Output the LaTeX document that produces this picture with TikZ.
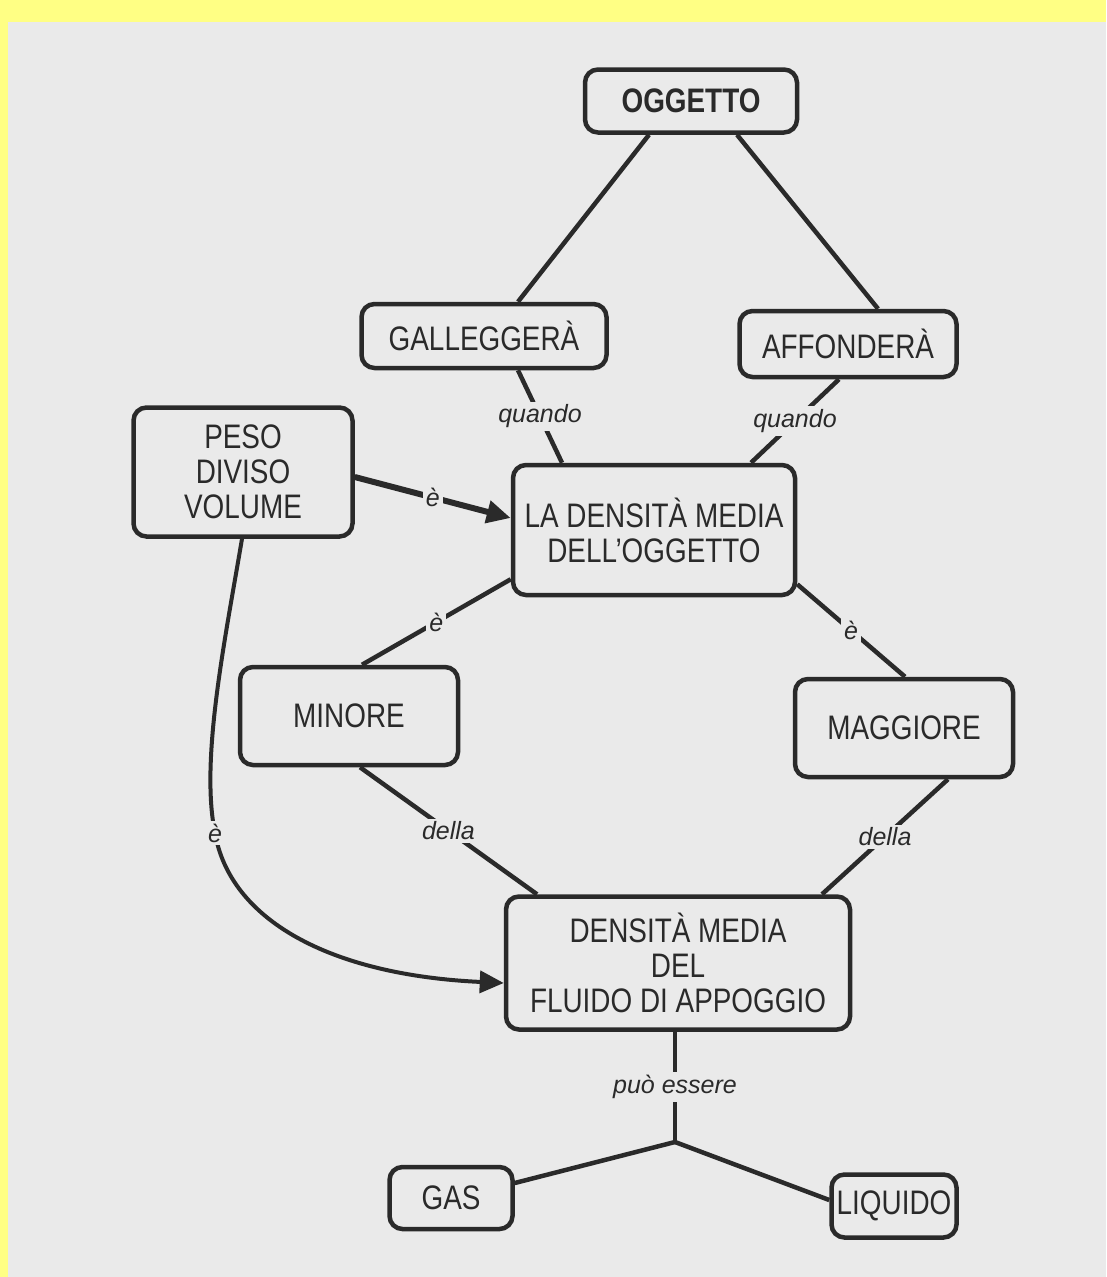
\documentclass[tikz,border=0pt]{standalone}
\usepackage{fontspec}
\setmainfont{Liberation Sans}[FakeStretch=0.82]
\newfontfamily\lblfont{Liberation Sans}
\usetikzlibrary{arrows.meta}
\definecolor{pagebg}{HTML}{EAEAEA}
\definecolor{scanyellow}{HTML}{FFFF84}
\definecolor{ink}{HTML}{2A2A2A}
\tikzset{
  concept/.style={draw=ink, line width=4.5pt, rounded corners=13pt, align=center,
    inner sep=0pt, text=ink, font=\fontsize{34}{35}\selectfont},
  lbl/.style={fill=pagebg, inner sep=3pt, text=ink, font=\lblfont\itshape\fontsize{25}{26}\selectfont},
  link/.style={draw=ink, line width=4.5pt},
  arrowlink/.style={draw=ink, line width=6pt, -{Triangle[length=24pt,width=22pt]}},
  curvelink/.style={draw=ink, line width=4pt, -{Triangle[length=24pt,width=22pt]}}
}
\begin{document}
\begin{tikzpicture}[x=1pt,y=-1pt]
\useasboundingbox (0,0) rectangle (1106,1277);
\fill[scanyellow] (0,0) rectangle (1106,1277);
\fill[pagebg] (8,22) rectangle (1106,1277);

% concepts
\node[concept, minimum width=212pt, minimum height=63pt, font=\bfseries\fontsize{34}{35}\selectfont] (ogg) at (691,101) {OGGETTO};
\node[concept, minimum width=245pt, minimum height=64pt] (gal) at (484,336) {GALLEGGERÀ};
\node[concept, minimum width=217pt, minimum height=66pt] (aff) at (848,344) {AFFONDERÀ};
\node[concept, minimum width=219pt, minimum height=129pt] (peso) at (243,472) {PESO\\DIVISO\\VOLUME};
\node[concept, minimum width=282pt, minimum height=130pt] (ladens) at (654,530) {LA DENSITÀ MEDIA\\DELL’OGGETTO};
\node[concept, minimum width=218pt, minimum height=98pt] (minore) at (349,716) {MINORE};
\node[concept, minimum width=218pt, minimum height=98pt] (magg) at (904,728) {MAGGIORE};
\node[concept, minimum width=344pt, minimum height=133pt] (fluido) at (678,963) {DENSITÀ MEDIA\\DEL\\FLUIDO DI APPOGGIO};
\node[concept, minimum width=123pt, minimum height=62pt] (gas) at (451,1198) {GAS};
\node[concept, minimum width=125pt, minimum height=63pt] (liq) at (894,1206) {LIQUIDO};

\coordinate (j) at (675,1142);
\coordinate (m) at (215,833);

% connectors
\draw[link] ([xshift=-42pt]ogg.south) -- ([xshift=34pt]gal.north);
\draw[link] ([xshift=46pt]ogg.south) -- ([xshift=30pt]aff.north);
\draw[link] ([xshift=34pt]gal.south) -- node[lbl] (q1) {quando} ([xshift=-92pt]ladens.north);
\draw[link] ([xshift=-9pt]aff.south) -- node[lbl] (q2) {quando} ([xshift=97pt]ladens.north);
\draw[arrowlink] ([yshift=-5pt]peso.east) -- node[lbl] (e1) {è} ([yshift=12pt]ladens.west);
\draw[link] ([yshift=18pt]ladens.south west) -- node[lbl] (e2) {è} ([xshift=13pt]minore.north);
\draw[link] ([yshift=13pt]ladens.south east) -- node[lbl] (e3) {è} ([xshift=1pt]magg.north);
\draw[link] ([xshift=11pt]minore.south) -- node[lbl] (d1) {della} ([xshift=-141pt]fluido.north);
\draw[link] ([xshift=44pt]magg.south) -- node[lbl] (d2) {della} ([xshift=144pt]fluido.north);
\draw[link] ([xshift=-3pt]fluido.south) -- node[lbl] (pe) {può essere} (j);
\draw[link] (j) -- ([yshift=15pt]gas.east);
\draw[link] (j) -- ([yshift=6pt]liq.west);
\draw[curvelink] ([xshift=-1pt]peso.south) .. controls (225,640) and (200,760) .. (m)
   .. controls (230,920) and (330,975) .. ([yshift=-20pt]fluido.west);
\node[lbl] (e4) at (m) {è};
\end{tikzpicture}
\end{document}
